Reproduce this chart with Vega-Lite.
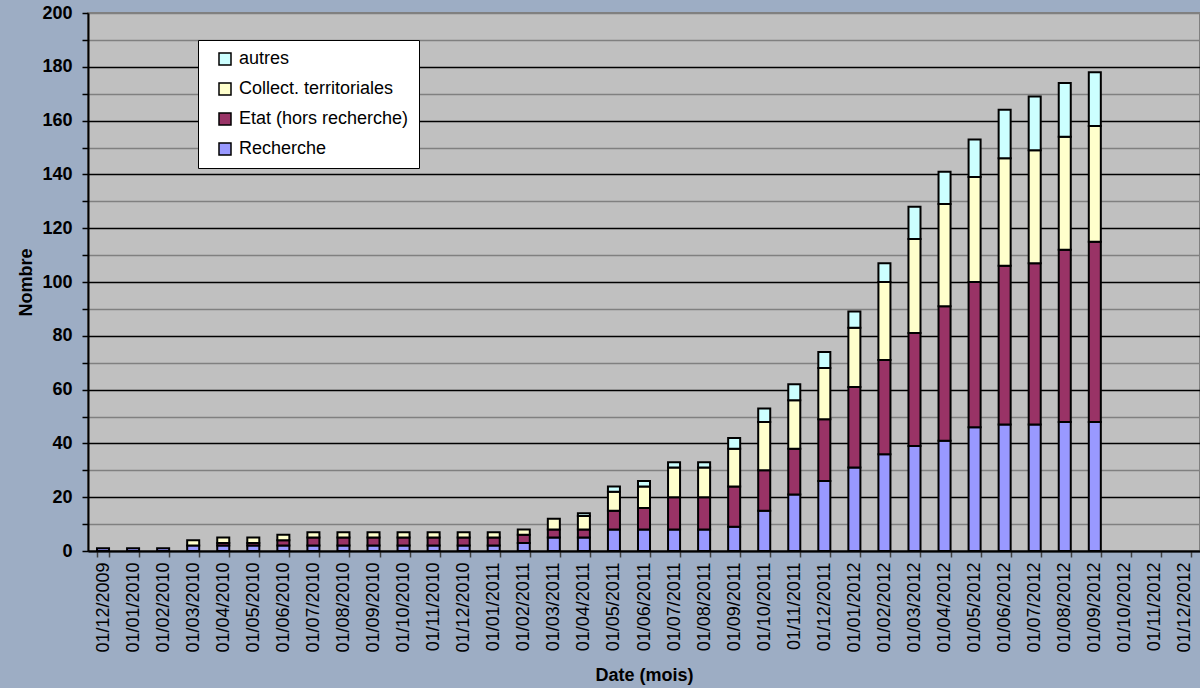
{
  "$schema": "https://vega.github.io/schema/vega-lite/v6.json",
  "width": 1112,
  "height": 538,
  "autosize": "none",
  "padding": {"left": 88, "top": 13, "right": 0, "bottom": 137},
  "background": "#9dadc4",
  "config": {
    "font": "Liberation Sans",
    "view": {"fill": "#c0c0c0", "stroke": "#808080", "strokeWidth": 2}
  },
  "data": {
    "values": [
      {"date": "01/12/2009", "serie": "Recherche", "nombre": 1},
      {"date": "01/01/2010", "serie": "Recherche", "nombre": 1},
      {"date": "01/02/2010", "serie": "Recherche", "nombre": 1},
      {"date": "01/03/2010", "serie": "Recherche", "nombre": 2},
      {"date": "01/03/2010", "serie": "Collect. territoriales", "nombre": 2},
      {"date": "01/04/2010", "serie": "Recherche", "nombre": 2},
      {"date": "01/04/2010", "serie": "Etat (hors recherche)", "nombre": 1},
      {"date": "01/04/2010", "serie": "Collect. territoriales", "nombre": 2},
      {"date": "01/05/2010", "serie": "Recherche", "nombre": 2},
      {"date": "01/05/2010", "serie": "Etat (hors recherche)", "nombre": 1},
      {"date": "01/05/2010", "serie": "Collect. territoriales", "nombre": 2},
      {"date": "01/06/2010", "serie": "Recherche", "nombre": 2},
      {"date": "01/06/2010", "serie": "Etat (hors recherche)", "nombre": 2},
      {"date": "01/06/2010", "serie": "Collect. territoriales", "nombre": 2},
      {"date": "01/07/2010", "serie": "Recherche", "nombre": 2},
      {"date": "01/07/2010", "serie": "Etat (hors recherche)", "nombre": 3},
      {"date": "01/07/2010", "serie": "Collect. territoriales", "nombre": 2},
      {"date": "01/08/2010", "serie": "Recherche", "nombre": 2},
      {"date": "01/08/2010", "serie": "Etat (hors recherche)", "nombre": 3},
      {"date": "01/08/2010", "serie": "Collect. territoriales", "nombre": 2},
      {"date": "01/09/2010", "serie": "Recherche", "nombre": 2},
      {"date": "01/09/2010", "serie": "Etat (hors recherche)", "nombre": 3},
      {"date": "01/09/2010", "serie": "Collect. territoriales", "nombre": 2},
      {"date": "01/10/2010", "serie": "Recherche", "nombre": 2},
      {"date": "01/10/2010", "serie": "Etat (hors recherche)", "nombre": 3},
      {"date": "01/10/2010", "serie": "Collect. territoriales", "nombre": 2},
      {"date": "01/11/2010", "serie": "Recherche", "nombre": 2},
      {"date": "01/11/2010", "serie": "Etat (hors recherche)", "nombre": 3},
      {"date": "01/11/2010", "serie": "Collect. territoriales", "nombre": 2},
      {"date": "01/12/2010", "serie": "Recherche", "nombre": 2},
      {"date": "01/12/2010", "serie": "Etat (hors recherche)", "nombre": 3},
      {"date": "01/12/2010", "serie": "Collect. territoriales", "nombre": 2},
      {"date": "01/01/2011", "serie": "Recherche", "nombre": 2},
      {"date": "01/01/2011", "serie": "Etat (hors recherche)", "nombre": 3},
      {"date": "01/01/2011", "serie": "Collect. territoriales", "nombre": 2},
      {"date": "01/02/2011", "serie": "Recherche", "nombre": 3},
      {"date": "01/02/2011", "serie": "Etat (hors recherche)", "nombre": 3},
      {"date": "01/02/2011", "serie": "Collect. territoriales", "nombre": 2},
      {"date": "01/03/2011", "serie": "Recherche", "nombre": 5},
      {"date": "01/03/2011", "serie": "Etat (hors recherche)", "nombre": 3},
      {"date": "01/03/2011", "serie": "Collect. territoriales", "nombre": 4},
      {"date": "01/04/2011", "serie": "Recherche", "nombre": 5},
      {"date": "01/04/2011", "serie": "Etat (hors recherche)", "nombre": 3},
      {"date": "01/04/2011", "serie": "Collect. territoriales", "nombre": 5},
      {"date": "01/04/2011", "serie": "autres", "nombre": 1},
      {"date": "01/05/2011", "serie": "Recherche", "nombre": 8},
      {"date": "01/05/2011", "serie": "Etat (hors recherche)", "nombre": 7},
      {"date": "01/05/2011", "serie": "Collect. territoriales", "nombre": 7},
      {"date": "01/05/2011", "serie": "autres", "nombre": 2},
      {"date": "01/06/2011", "serie": "Recherche", "nombre": 8},
      {"date": "01/06/2011", "serie": "Etat (hors recherche)", "nombre": 8},
      {"date": "01/06/2011", "serie": "Collect. territoriales", "nombre": 8},
      {"date": "01/06/2011", "serie": "autres", "nombre": 2},
      {"date": "01/07/2011", "serie": "Recherche", "nombre": 8},
      {"date": "01/07/2011", "serie": "Etat (hors recherche)", "nombre": 12},
      {"date": "01/07/2011", "serie": "Collect. territoriales", "nombre": 11},
      {"date": "01/07/2011", "serie": "autres", "nombre": 2},
      {"date": "01/08/2011", "serie": "Recherche", "nombre": 8},
      {"date": "01/08/2011", "serie": "Etat (hors recherche)", "nombre": 12},
      {"date": "01/08/2011", "serie": "Collect. territoriales", "nombre": 11},
      {"date": "01/08/2011", "serie": "autres", "nombre": 2},
      {"date": "01/09/2011", "serie": "Recherche", "nombre": 9},
      {"date": "01/09/2011", "serie": "Etat (hors recherche)", "nombre": 15},
      {"date": "01/09/2011", "serie": "Collect. territoriales", "nombre": 14},
      {"date": "01/09/2011", "serie": "autres", "nombre": 4},
      {"date": "01/10/2011", "serie": "Recherche", "nombre": 15},
      {"date": "01/10/2011", "serie": "Etat (hors recherche)", "nombre": 15},
      {"date": "01/10/2011", "serie": "Collect. territoriales", "nombre": 18},
      {"date": "01/10/2011", "serie": "autres", "nombre": 5},
      {"date": "01/11/2011", "serie": "Recherche", "nombre": 21},
      {"date": "01/11/2011", "serie": "Etat (hors recherche)", "nombre": 17},
      {"date": "01/11/2011", "serie": "Collect. territoriales", "nombre": 18},
      {"date": "01/11/2011", "serie": "autres", "nombre": 6},
      {"date": "01/12/2011", "serie": "Recherche", "nombre": 26},
      {"date": "01/12/2011", "serie": "Etat (hors recherche)", "nombre": 23},
      {"date": "01/12/2011", "serie": "Collect. territoriales", "nombre": 19},
      {"date": "01/12/2011", "serie": "autres", "nombre": 6},
      {"date": "01/01/2012", "serie": "Recherche", "nombre": 31},
      {"date": "01/01/2012", "serie": "Etat (hors recherche)", "nombre": 30},
      {"date": "01/01/2012", "serie": "Collect. territoriales", "nombre": 22},
      {"date": "01/01/2012", "serie": "autres", "nombre": 6},
      {"date": "01/02/2012", "serie": "Recherche", "nombre": 36},
      {"date": "01/02/2012", "serie": "Etat (hors recherche)", "nombre": 35},
      {"date": "01/02/2012", "serie": "Collect. territoriales", "nombre": 29},
      {"date": "01/02/2012", "serie": "autres", "nombre": 7},
      {"date": "01/03/2012", "serie": "Recherche", "nombre": 39},
      {"date": "01/03/2012", "serie": "Etat (hors recherche)", "nombre": 42},
      {"date": "01/03/2012", "serie": "Collect. territoriales", "nombre": 35},
      {"date": "01/03/2012", "serie": "autres", "nombre": 12},
      {"date": "01/04/2012", "serie": "Recherche", "nombre": 41},
      {"date": "01/04/2012", "serie": "Etat (hors recherche)", "nombre": 50},
      {"date": "01/04/2012", "serie": "Collect. territoriales", "nombre": 38},
      {"date": "01/04/2012", "serie": "autres", "nombre": 12},
      {"date": "01/05/2012", "serie": "Recherche", "nombre": 46},
      {"date": "01/05/2012", "serie": "Etat (hors recherche)", "nombre": 54},
      {"date": "01/05/2012", "serie": "Collect. territoriales", "nombre": 39},
      {"date": "01/05/2012", "serie": "autres", "nombre": 14},
      {"date": "01/06/2012", "serie": "Recherche", "nombre": 47},
      {"date": "01/06/2012", "serie": "Etat (hors recherche)", "nombre": 59},
      {"date": "01/06/2012", "serie": "Collect. territoriales", "nombre": 40},
      {"date": "01/06/2012", "serie": "autres", "nombre": 18},
      {"date": "01/07/2012", "serie": "Recherche", "nombre": 47},
      {"date": "01/07/2012", "serie": "Etat (hors recherche)", "nombre": 60},
      {"date": "01/07/2012", "serie": "Collect. territoriales", "nombre": 42},
      {"date": "01/07/2012", "serie": "autres", "nombre": 20},
      {"date": "01/08/2012", "serie": "Recherche", "nombre": 48},
      {"date": "01/08/2012", "serie": "Etat (hors recherche)", "nombre": 64},
      {"date": "01/08/2012", "serie": "Collect. territoriales", "nombre": 42},
      {"date": "01/08/2012", "serie": "autres", "nombre": 20},
      {"date": "01/09/2012", "serie": "Recherche", "nombre": 48},
      {"date": "01/09/2012", "serie": "Etat (hors recherche)", "nombre": 67},
      {"date": "01/09/2012", "serie": "Collect. territoriales", "nombre": 43},
      {"date": "01/09/2012", "serie": "autres", "nombre": 20}
    ]
  },
  "transform": [
    {"calculate": "indexof(['Recherche', 'Etat (hors recherche)', 'Collect. territoriales', 'autres'], datum.serie)", "as": "ordre"}
  ],
  "mark": {"type": "bar", "stroke": "black", "strokeWidth": 2},
  "encoding": {
    "x": {
      "field": "date",
      "type": "nominal",
      "sort": null,
      "scale": {
        "domain": ["01/12/2009", "01/01/2010", "01/02/2010", "01/03/2010", "01/04/2010", "01/05/2010", "01/06/2010", "01/07/2010", "01/08/2010", "01/09/2010", "01/10/2010", "01/11/2010", "01/12/2010", "01/01/2011", "01/02/2011", "01/03/2011", "01/04/2011", "01/05/2011", "01/06/2011", "01/07/2011", "01/08/2011", "01/09/2011", "01/10/2011", "01/11/2011", "01/12/2011", "01/01/2012", "01/02/2012", "01/03/2012", "01/04/2012", "01/05/2012", "01/06/2012", "01/07/2012", "01/08/2012", "01/09/2012", "01/10/2012", "01/11/2012", "01/12/2012"],
        "paddingInner": 0.6,
        "paddingOuter": 0.3
      },
      "axis": {
        "title": "Date (mois)",
        "titleFontSize": 18,
        "titleFontWeight": "bold",
        "titleColor": "black",
        "titlePadding": 14,
        "labelAngle": -90,
        "labelFontSize": 18,
        "labelColor": "black",
        "labelPadding": 5,
        "labelOverlap": false,
        "labelBound": false,
        "tickBand": "extent",
        "tickSize": 6,
        "tickColor": "#404040",
        "tickWidth": 1.5,
        "domainColor": "black",
        "domainWidth": 2,
        "grid": false
      }
    },
    "y": {
      "field": "nombre",
      "type": "quantitative",
      "stack": "zero",
      "scale": {"domain": [0, 200], "nice": false},
      "axis": {
        "title": "Nombre",
        "titleFontSize": 18,
        "titleFontWeight": "bold",
        "titleColor": "black",
        "titlePadding": 6,
        "values": [0, 10, 20, 30, 40, 50, 60, 70, 80, 90, 100, 110, 120, 130, 140, 150, 160, 170, 180, 190, 200],
        "labelExpr": "datum.value % 20 === 0 ? datum.label : ''",
        "format": "d",
        "labelFontSize": 18,
        "labelFontWeight": "bold",
        "labelColor": "black",
        "labelPadding": 10,
        "tickSize": 6,
        "tickColor": "black",
        "tickWidth": 1.5,
        "domainColor": "black",
        "domainWidth": 2,
        "grid": true,
        "gridColor": {"condition": {"test": "datum.value % 20 === 0 && datum.value < 200", "value": "black"}, "value": "#808080"},
        "gridWidth": 1.5
      }
    },
    "order": {"field": "ordre", "type": "quantitative", "sort": "ascending"},
    "color": {
      "field": "serie",
      "type": "nominal",
      "scale": {
        "domain": ["Recherche", "Etat (hors recherche)", "Collect. territoriales", "autres"],
        "range": ["#9999ff", "#993366", "#ffffcc", "#ccffff"]
      },
      "legend": {
        "orient": "none",
        "legendX": 110,
        "legendY": 27,
        "title": null,
        "values": ["autres", "Collect. territoriales", "Etat (hors recherche)", "Recherche"],
        "fillColor": "white",
        "strokeColor": "black",
        "padding": 10,
        "symbolType": "square",
        "symbolSize": 144,
        "symbolStrokeColor": "black",
        "symbolStrokeWidth": 1.5,
        "symbolOffset": 8,
        "labelOffset": 5,
        "labelFontSize": 18,
        "labelLimit": 400,
        "labelColor": "black",
        "rowPadding": 12
      }
    }
  }
}
